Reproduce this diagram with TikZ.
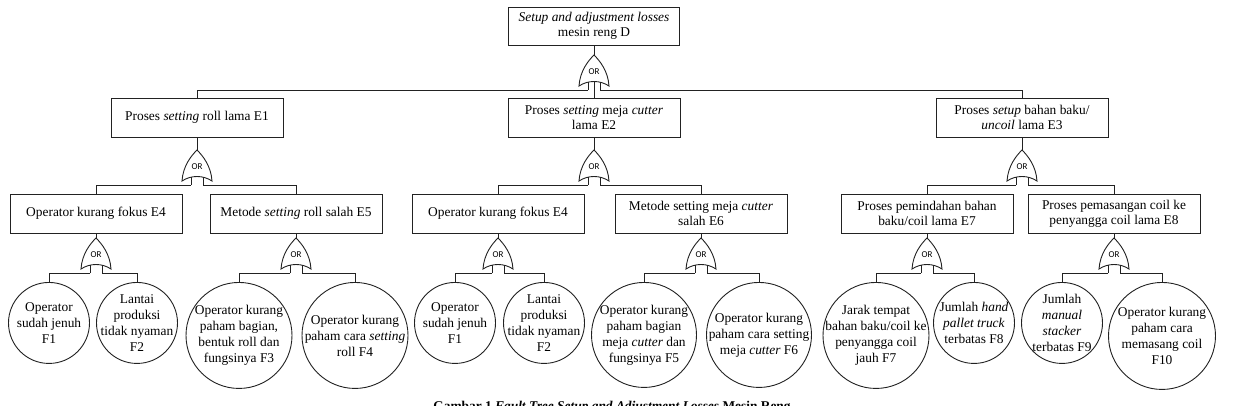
\documentclass[tikz,border=0pt]{standalone}
\usepackage{fontspec}
\setmainfont{Liberation Serif}
\newfontfamily\gatefont{Carlito}
\usetikzlibrary{calc}
\definecolor{lineblack}{HTML}{222222}
\tikzset{
  link/.style={draw=lineblack,line width=0.9pt},
  evbox/.style={link,fill=white,minimum width=172pt,minimum height=39pt,
                inner sep=1pt,align=center,font=\fontsize{13.4}{15}\selectfont},
  evcirc/.style={link,circle,inner sep=0pt,minimum size=#1,anchor=north},
  evtxt/.style={align=center,inner sep=0pt,font=\fontsize{13.4}{16}\selectfont},
  orgate/.pic={
    \draw[link] (-15,31) .. controls (-14,16) and (-6,6) .. (0,0)
      .. controls (6,6) and (14,16) .. (15,31)
      .. controls (6,25) and (-6,25) .. cycle;
    \draw[link] (-6,27.3) -- (-6,35) (6,27.3) -- (6,35);
    \node[inner sep=0pt,font=\gatefont\fontsize{9}{10}\selectfont] (-lbl) at (0,17) {OR};
    \coordinate (-in) at (0,0);
    \coordinate (-c) at (0,26.6);
    \coordinate (-l) at (-6,35);
    \coordinate (-r) at (6,35);
  }
}

\begin{document}
\begin{tikzpicture}[x=1pt,y=-1pt]
  \path[fill=white,use as bounding box] (0,0) rectangle (1235,406);

  \node[evbox,minimum width=171pt,minimum height=38pt] (D) at (594,26)
    {\textit{Setup and adjustment losses}\\mesin reng D};
  \pic (g0) at (594,55) {orgate};

  \node[evbox] (E1) at (197,117.5) {Proses \textit{setting} roll lama E1};
  \node[evbox] (E2) at (594,117.5) {Proses \textit{setting} meja \textit{cutter}\\lama E2};
  \node[evbox] (E3) at (1022,117.5) {Proses \textit{setup} bahan baku/\\\textit{uncoil} lama E3};
  \pic (g1) at (197,150) {orgate};
  \pic (g2) at (594,150) {orgate};
  \pic (g3) at (1022,150) {orgate};

  \node[evbox] (E4) at (96,213.5) {Operator kurang fokus E4};
  \node[evbox] (E5) at (296,213.5) {Metode \textit{setting} roll salah E5};
  \node[evbox] (E4b) at (498,213.5) {Operator kurang fokus E4};
  \node[evbox] (E6) at (701,213.5) {Metode setting meja \textit{cutter}\\salah E6};
  \node[evbox] (E7) at (927,213.5) {Proses pemindahan bahan\\baku/coil lama E7};
  \node[evbox] (E8) at (1114,213.5) {Proses pemasangan coil ke\\penyangga coil lama E8};
  \pic (g4) at (96,238) {orgate};
  \pic (g5) at (296,238) {orgate};
  \pic (g6) at (498,238) {orgate};
  \pic (g7) at (701,238) {orgate};
  \pic (g8) at (927,238) {orgate};
  \pic (g9) at (1114,238) {orgate};

  \node[evcirc=81pt,label={[evtxt]center:{Operator\\sudah jenuh\\F1}}] (F1) at (49,282) {};
  \node[evcirc=81pt,label={[evtxt]center:{Lantai\\produksi\\tidak nyaman\\F2}}] (F2) at (137,282) {};
  \node[evcirc=106pt,label={[evtxt]center:{Operator kurang\\paham bagian,\\bentuk roll dan\\fungsinya F3}}] (F3) at (239,282) {};
  \node[evcirc=106pt,label={[evtxt]center:{Operator kurang\\paham cara \textit{setting}\\roll F4}}] (F4) at (355,282) {};
  \node[evcirc=81pt,label={[evtxt]center:{Operator\\sudah jenuh\\F1}}] (F1b) at (455,282) {};
  \node[evcirc=81pt,label={[evtxt]center:{Lantai\\produksi\\tidak nyaman\\F2}}] (F2b) at (544,282) {};
  \node[evcirc=105pt,label={[evtxt]center:{Operator kurang\\paham bagian\\meja \textit{cutter} dan\\fungsinya F5}}] (F5) at (644,282) {};
  \node[evcirc=105pt,label={[evtxt]center:{Operator kurang\\paham cara setting\\meja \textit{cutter} F6}}] (F6) at (759,282) {};
  \node[evcirc=106pt,label={[evtxt]center:{Jarak tempat\\bahan baku/coil ke\\penyangga coil\\jauh F7}}] (F7) at (876,282) {};
  \node[evcirc=81pt,label={[evtxt]center:{Jumlah \textit{hand}\\\textit{pallet truck}\\terbatas F8}}] (F8) at (974,282) {};
  \node[evcirc=81pt,label={[evtxt]center:{Jumlah\\\textit{manual}\\\textit{stacker}\\terbatas F9}}] (F9) at (1062,282) {};
  \node[evcirc=107pt,label={[evtxt]center:{Operator kurang\\paham cara\\memasang coil\\F10}}] (F10) at (1162,282) {};

  \draw[link] (D.south) -- (g0-in);
  \draw[link] (g0-l) -| (E1.north);
  \draw[link] (g0-c) -- (E2.north);
  \draw[link] (g0-r) -| (E3.north);
  \draw[link] (E1.south) -- (g1-in);
  \draw[link] (E2.south) -- (g2-in);
  \draw[link] (E3.south) -- (g3-in);
  \draw[link] (g1-l) -| (E4.north);
  \draw[link] (g1-r) -| (E5.north);
  \draw[link] (g2-l) -| (E4b.north);
  \draw[link] (g2-r) -| (E6.north);
  \draw[link] (g3-l) -| (E7.north);
  \draw[link] (g3-r) -| (E8.north);
  \draw[link] (E4.south) -- (g4-in);
  \draw[link] (E5.south) -- (g5-in);
  \draw[link] (E4b.south) -- (g6-in);
  \draw[link] (E6.south) -- (g7-in);
  \draw[link] (E7.south) -- (g8-in);
  \draw[link] (E8.south) -- (g9-in);
  \draw[link] (g4-l) -| (F1.north);
  \draw[link] (g4-r) -| (F2.north);
  \draw[link] (g5-l) -| (F3.north);
  \draw[link] (g5-r) -| (F4.north);
  \draw[link] (g6-l) -| (F1b.north);
  \draw[link] (g6-r) -| (F2b.north);
  \draw[link] (g7-l) -| (F5.north);
  \draw[link] (g7-r) -| (F6.north);
  \draw[link] (g8-l) -| (F7.north);
  \draw[link] (g8-r) -| (F8.north);
  \draw[link] (g9-l) -| (F9.north);
  \draw[link] (g9-r) -| (F10.north);

  \begin{scope}
    \clip (0,0) rectangle (1235,406);
    \node[anchor=base,inner sep=0pt,font=\fontsize{13.4}{15}\selectfont\bfseries] (cap) at (612,410)
      {Gambar 1 \textit{Fault Tree Setup and Adjustment Losses} Mesin Reng};
  \end{scope}
\end{tikzpicture}
\end{document}
